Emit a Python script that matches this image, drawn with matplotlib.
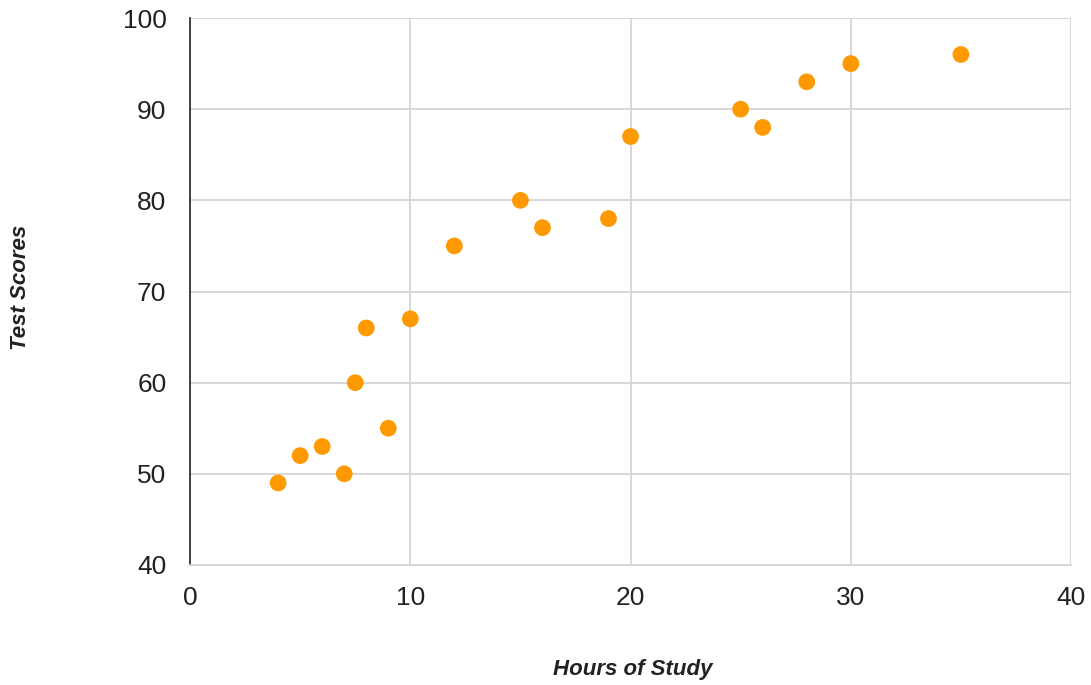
import matplotlib
matplotlib.use("Agg")
import matplotlib.pyplot as plt

hours = [4, 5, 6, 7, 7.5, 8, 9, 10, 12, 15, 16, 19, 20, 25, 26, 28, 30, 35]
scores = [49, 52, 53, 50, 60, 66, 55, 67, 75, 80, 77, 78, 87, 90, 88, 93, 95, 96]
x_ticks = [0, 10, 20, 30, 40]
y_ticks = [40, 50, 60, 70, 80, 90, 100]

plt.rcParams['font.family'] = ['Liberation Sans', 'DejaVu Sans']

fig = plt.figure(figsize=(10.91, 6.85), dpi=100)
ax = fig.add_axes([0.1742, 0.1752, 0.9817 - 0.1742, 0.9737 - 0.1752])

ax.scatter(hours, scores, s=145, color='#FF9900', edgecolors='none', zorder=3)

ax.set_xlim(0, 40)
ax.set_ylim(40, 100)
ax.set_xticks(x_ticks)
ax.set_yticks(y_ticks)
ax.grid(True, color='#d4d4d4', linewidth=1.3)
ax.set_axisbelow(True)
for s in ['top', 'right']:
    ax.spines[s].set_visible(False)
ax.spines['bottom'].set_color('#d4d4d4')
ax.spines['bottom'].set_linewidth(1.3)
ax.spines['left'].set_color('#333333')
ax.spines['left'].set_linewidth(1.3)
ax.tick_params(axis='y', length=0, labelsize=19, colors='#222222', pad=17)
ax.tick_params(axis='x', length=0, labelsize=19, colors='#222222', pad=15)

fig.text(0.019, 0.58, 'Test Scores', rotation=90, ha='center', va='center',
         fontsize=16, fontweight='bold', fontstyle='italic', color='#222222')
fig.text(0.58, 0.022, 'Hours of Study', ha='center', va='center',
         fontsize=16, fontweight='bold', fontstyle='italic', color='#222222')

fig.savefig('out.png', dpi=100)
